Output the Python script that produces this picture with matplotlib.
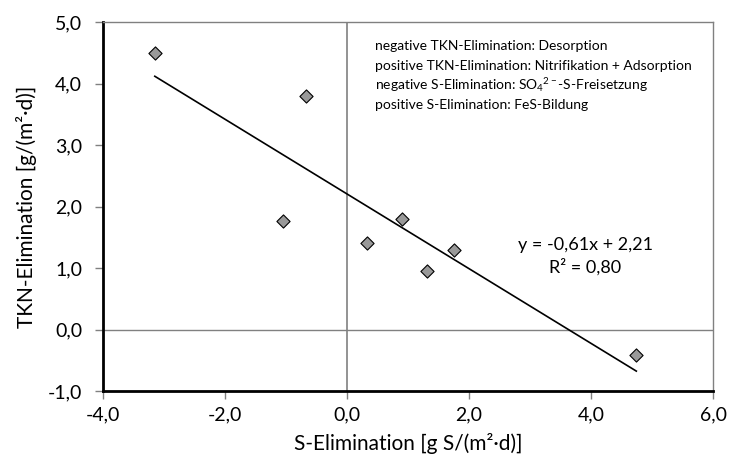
import matplotlib
matplotlib.use("Agg")
import matplotlib.pyplot as plt
import numpy as np
from matplotlib.ticker import FuncFormatter, MultipleLocator

plt.rcParams["font.family"] = ["Lato", "DejaVu Sans"]
plt.rcParams["mathtext.fontset"] = "custom"
plt.rcParams["mathtext.rm"] = "Lato"
plt.rcParams["mathtext.it"] = "Lato:italic"

# S-Elimination vs TKN-Elimination, g/(m2*d)
s_elim = [-3.15, -1.05, -0.67, 0.33, 0.90, 1.31, 1.75, 4.74]
tkn_elim = [4.50, 1.77, 3.80, 1.40, 1.79, 0.96, 1.30, -0.41]

notes = [
    "negative TKN-Elimination: Desorption",
    "positive TKN-Elimination: Nitrifikation + Adsorption",
    "negative S-Elimination: SO$_4$$^{2-}$-S-Freisetzung",
    "positive S-Elimination: FeS-Bildung",
]
eq_text = "y = -0,61x + 2,21\nR² = 0,80"

fig, ax = plt.subplots(figsize=(7.3, 4.7), dpi=100)
fig.subplots_adjust(left=0.141, right=0.977, top=0.953, bottom=0.168)

# zero lines
ax.axvline(0, color="#808080", linewidth=1.2, zorder=1)
ax.axhline(0, color="#808080", linewidth=1.0, zorder=1)

# linear trendline
k, m = np.polyfit(s_elim, tkn_elim, 1)
x_line = np.array([min(s_elim), max(s_elim)])
ax.plot(x_line, k * x_line + m, color="black", linewidth=1.2, zorder=2)

ax.scatter(s_elim, tkn_elim, marker="D", s=45, facecolor="#999999",
           edgecolor="black", linewidth=0.8, zorder=3)

ax.set_xlim(-4, 6)
ax.set_ylim(-1, 5)
ax.xaxis.set_major_locator(MultipleLocator(2))
ax.yaxis.set_major_locator(MultipleLocator(1))
fmt = FuncFormatter(lambda v, p: f"{v:.1f}".replace(".", ","))
ax.xaxis.set_major_formatter(fmt)
ax.yaxis.set_major_formatter(fmt)
ax.tick_params(labelsize=14, color="#808080", length=6, width=1, direction="out")
ax.tick_params(axis="y", pad=9)
ax.tick_params(axis="x", pad=5)

for side in ["top", "right"]:
    ax.spines[side].set_color("#808080")
    ax.spines[side].set_linewidth(1)
for side in ["left", "bottom"]:
    ax.spines[side].set_color("black")
    ax.spines[side].set_linewidth(2)

ax.set_xlabel("S-Elimination [g S/(m²·d)]", fontsize=15, labelpad=7)
ax.set_ylabel("TKN-Elimination [g/(m²·d)]", fontsize=15, labelpad=8)

for i, line in enumerate(notes):
    ax.text(0.445, 0.935 - i * 0.053, line, transform=ax.transAxes,
            fontsize=10, va="center", ha="left")

ax.text(0.79, 0.365, eq_text, transform=ax.transAxes, fontsize=13,
        ha="center", va="center", linespacing=1.35)

fig.savefig("out.png", dpi=100)
